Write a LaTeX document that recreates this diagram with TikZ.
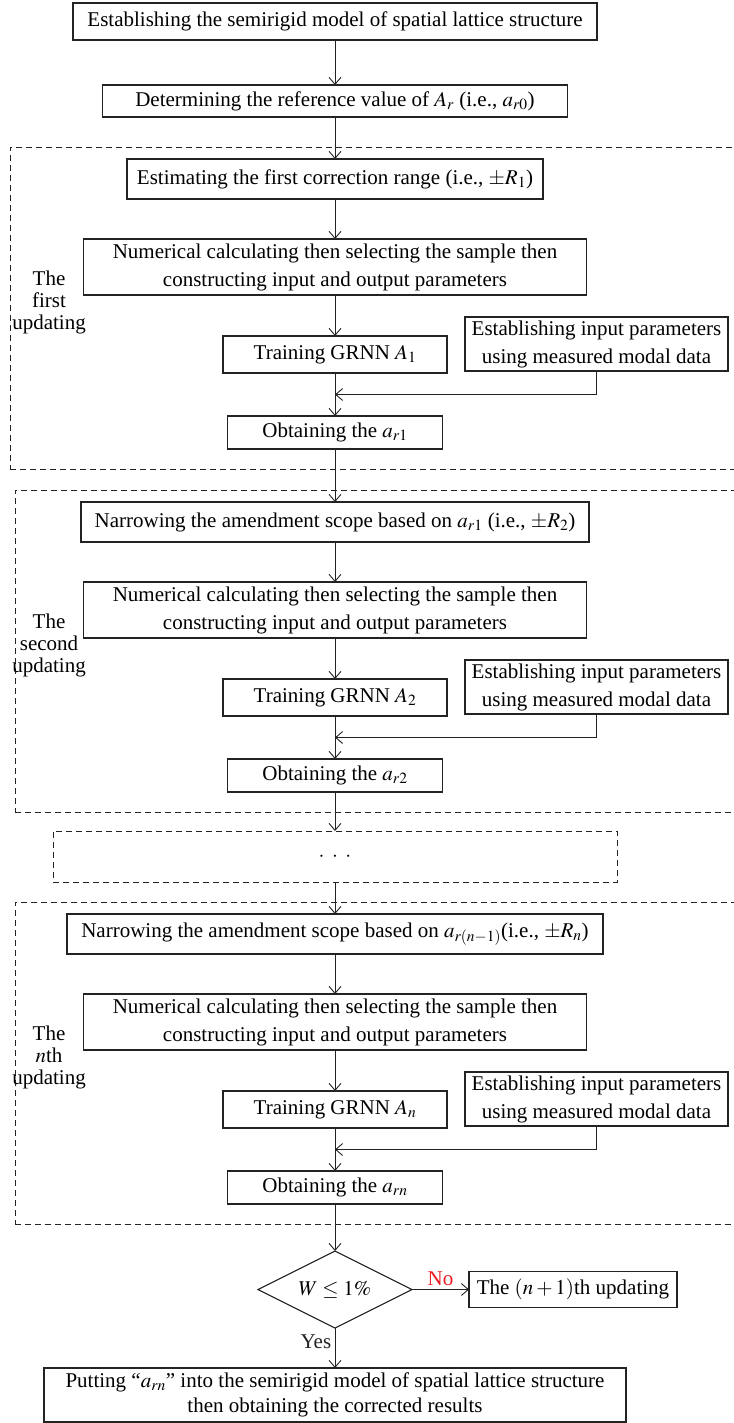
\documentclass[tikz,border=0pt]{standalone}
\usepackage{mathptmx}
\usepackage{fontspec}
\setmainfont{Liberation Serif}
\usetikzlibrary{arrows.meta, positioning, shapes.geometric}
\definecolor{LineDark}{RGB}{35, 35, 35}
\definecolor{NoRed}{RGB}{237, 28, 36}

\begin{document}
\begin{tikzpicture}[
        x=1pt, y=1pt,
        font=\fontsize{21}{28}\selectfont,
        box/.style={rectangle, draw=LineDark, line width=1.1pt, align=center, inner sep=2pt, outer sep=0pt},
        frame/.style={rectangle, draw=LineDark, line width=0.9pt, dash pattern=on 6pt off 4pt, inner sep=0pt, outer sep=0pt},
        side/.style={align=center, font=\fontsize{21}{22}\selectfont},
        decision/.style={diamond, draw=LineDark, line width=1.1pt, aspect=2, minimum width=154pt, minimum height=77pt, inner sep=0pt, outer sep=0pt},
        arrow/.style={-{Straight Barb[length=7pt, width=12pt]}, line width=0.9pt, LineDark}
    ]
        \useasboundingbox (0,0) rectangle (733,-1423);

        % Frames
        \node[frame, anchor=north west, minimum width=740pt, minimum height=322pt] (blk1) at (10,-147) {};
        \node[frame, anchor=north west, minimum width=740pt, minimum height=322pt] (blk2) at (15,-490) {};
        \node[frame, anchor=north west, minimum width=740pt, minimum height=322pt] (blk3) at (15,-902) {};

        % Nodes
        \node[box, minimum width=524pt, minimum height=37pt] (est) at (335,-21.5) {Establishing the semirigid model of spatial lattice structure};
        \node[box, minimum width=465pt, minimum height=32pt, below=45pt of est] (ref) {Determining the reference value of $A_r$ (i.e., $a_{r0}$)};

        % First updating
        \node[box, minimum width=416pt, minimum height=40pt, below=42pt of ref] (range1) {Estimating the first correction range (i.e., $\pm R_1$)};
        \node[box, minimum width=503pt, minimum height=56pt, below=40pt of range1] (calc1) {Numerical calculating then selecting the sample then\\constructing input and output parameters};
        \node[box, minimum width=224pt, minimum height=37pt, below=41pt of calc1] (train1) {Training GRNN $A_1$};
        \node[box, minimum width=263pt, minimum height=54pt, right=18pt of train1, yshift=10.5pt] (meas1) {Establishing input parameters\\using measured modal data};
        \node[box, minimum width=215pt, minimum height=33pt, below=43pt of train1] (obt1) {Obtaining the $a_{r1}$};
        \path (train1.south) -- coordinate[pos=0.5] (join1) (obt1.north);
        \node[side] (lab1) at (49,-302) {The\\first\\updating};

        % Second updating
        \node[box, minimum width=508pt, minimum height=40pt, below=53pt of obt1] (narrow2) {Narrowing the amendment scope based on $a_{r1}$ (i.e., $\pm R_2$)};
        \node[box, minimum width=503pt, minimum height=56pt, below=40pt of narrow2] (calc2) {Numerical calculating then selecting the sample then\\constructing input and output parameters};
        \node[box, minimum width=224pt, minimum height=37pt, below=41pt of calc2] (train2) {Training GRNN $A_2$};
        \node[box, minimum width=263pt, minimum height=54pt, right=18pt of train2, yshift=10.5pt] (meas2) {Establishing input parameters\\using measured modal data};
        \node[box, minimum width=215pt, minimum height=33pt, below=43pt of train2] (obt2) {Obtaining the $a_{r2}$};
        \path (train2.south) -- coordinate[pos=0.5] (join2) (obt2.north);
        \node[side] (lab2) at (49,-645) {The\\second\\updating};

        \node[frame, minimum width=564pt, minimum height=51pt, below=39pt of obt2] (dots) {$\cdot\;\cdot\;\cdot$};

        % nth updating
        \node[box, minimum width=536pt, minimum height=40pt, below=32pt of dots] (narrow3) {Narrowing the amendment scope based on $a_{r(n-1)}$(i.e., $\pm R_n$)};
        \node[box, minimum width=503pt, minimum height=56pt, below=40pt of narrow3] (calc3) {Numerical calculating then selecting the sample then\\constructing input and output parameters};
        \node[box, minimum width=224pt, minimum height=37pt, below=41pt of calc3] (train3) {Training GRNN $A_n$};
        \node[box, minimum width=263pt, minimum height=54pt, right=18pt of train3, yshift=10.5pt] (meas3) {Establishing input parameters\\using measured modal data};
        \node[box, minimum width=215pt, minimum height=33pt, below=43pt of train3] (obt3) {Obtaining the $a_{rn}$};
        \path (train3.south) -- coordinate[pos=0.5] (join3) (obt3.north);
        \node[side] (lab3) at (49,-1057) {The\\$n$th\\updating};

        % Check and output
        \node[decision, below=47pt of obt3] (check) {$W \leq 1\%$};
        \node[box, minimum width=208pt, minimum height=36pt, right=57pt of check] (next) {The $(n+1)$th updating};
        \node[box, minimum width=582pt, minimum height=54pt, font=\fontsize{21}{25}\selectfont, below=40pt of check] (final) {Putting ``$a_{rn}$'' into the semirigid model of spatial lattice structure\\then obtaining the corrected results};

        % Arrows
        \draw[arrow] (est) -- (ref);
        \draw[arrow] (ref) -- (range1);
        \draw[arrow] (range1) -- (calc1);
        \draw[arrow] (calc1) -- (train1);
        \draw[arrow] (train1) -- (obt1);
        \draw[arrow] (meas1.south) |- (join1);
        \draw[arrow] (obt1) -- (narrow2);
        \draw[arrow] (narrow2) -- (calc2);
        \draw[arrow] (calc2) -- (train2);
        \draw[arrow] (train2) -- (obt2);
        \draw[arrow] (meas2.south) |- (join2);
        \draw[arrow] (obt2) -- (dots);
        \draw[arrow] (dots) -- (narrow3);
        \draw[arrow] (narrow3) -- (calc3);
        \draw[arrow] (calc3) -- (train3);
        \draw[arrow] (train3) -- (obt3);
        \draw[arrow] (meas3.south) |- (join3);
        \draw[arrow] (obt3) -- (check);
        \draw[arrow] (check) -- node[above, text=NoRed] {No} (next);
        \draw[arrow] (check) -- node[left, pos=0.35] {Yes} (final);

    \end{tikzpicture}
\end{document}
